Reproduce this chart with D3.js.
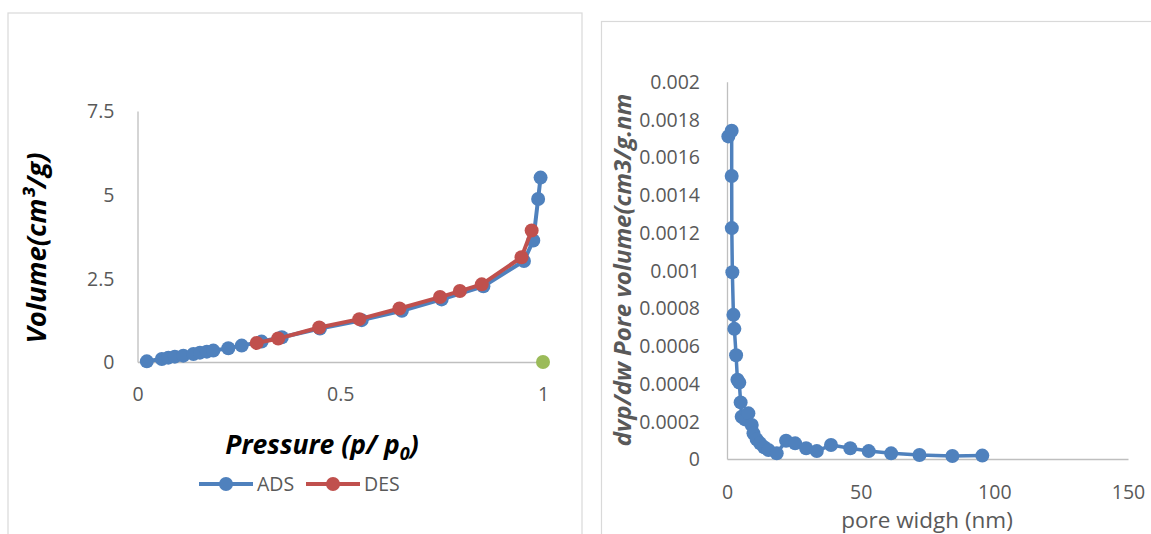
<!DOCTYPE html>
<html>
<head>
<meta charset="utf-8">
<script src="https://cdn.jsdelivr.net/npm/d3@7"></script>
<style>
  body { margin: 0; background: #fff; }
  svg { display: block; }
  text { font-family: "Open Sans", "Noto Sans", sans-serif; }
</style>
</head>
<body>
<svg id="chart" width="1151" height="534"></svg>
<script>
// ---------- data: left chart (isotherm) ----------
const adsPressure = [0.023, 0.06, 0.076, 0.092, 0.113, 0.138, 0.154, 0.171, 0.187, 0.224, 0.257, 0.306, 0.356, 0.45, 0.553, 0.652, 0.75, 0.853, 0.953, 0.976, 0.988, 0.994];
const adsVolume   = [0.02, 0.09, 0.13, 0.16, 0.19, 0.24, 0.28, 0.31, 0.34, 0.41, 0.49, 0.61, 0.74, 1.0, 1.25, 1.53, 1.87, 2.26, 3.02, 3.63, 4.87, 5.51];
const desPressure = [0.294, 0.347, 0.448, 0.547, 0.646, 0.746, 0.795, 0.849, 0.947, 0.972];
const desVolume   = [0.57, 0.70, 1.03, 1.28, 1.60, 1.94, 2.12, 2.32, 3.13, 3.93];
const extraPressure = [1.0];
const extraVolume   = [0];
const leftXTicks = [0, 0.5, 1];
const leftXTickLabels = ["0", "0.5", "1"];
const leftYTicks = [0, 2.5, 5, 7.5];
const leftYTickLabels = ["0", "2.5", "5", "7.5"];
const seriesNames = ["ADS", "DES"];

// ---------- data: right chart (pore size distribution) ----------
const poreWidth = [0.5, 1.75, 1.75, 1.8, 2.0, 2.4, 2.75, 3.4, 3.9, 4.6, 5.1, 5.5, 6.75, 8.0, 9.25, 9.9, 11.1, 12.4, 13.9, 15.5, 18.6, 22.1, 25.5, 29.6, 33.6, 38.9, 46.1, 53.0, 61.4, 72.0, 84.3, 95.5];
const poreVolume = [0.00171, 0.00174, 0.0015, 0.001224, 0.00099, 0.000764, 0.00069, 0.00055, 0.00042, 0.000405, 0.0003, 0.000224, 0.00021, 0.000242, 0.00018, 0.000136, 0.000104, 0.000083, 0.000062, 0.000048, 0.00003, 0.000097, 0.000083, 0.000057, 0.000042, 0.000074, 0.000057, 0.000042, 0.00003, 0.000021, 0.000016, 0.000018];
const rightXTicks = [0, 50, 100, 150];
const rightXTickLabels = ["0", "50", "100", "150"];
const rightYTicks = [0, 0.0002, 0.0004, 0.0006, 0.0008, 0.001, 0.0012, 0.0014, 0.0016, 0.0018, 0.002];
const rightYTickLabels = ["0", "0.0002", "0.0004", "0.0006", "0.0008", "0.001", "0.0012", "0.0014", "0.0016", "0.0018", "0.002"];

const BLUE = "#4F81BD", RED = "#C0504D", GREEN = "#9BBB59";
const AXIS = "#BFBFBF", TICKTXT = "#595959";
const R = 7, LW = 4;

const svg = d3.select("#chart");

// panel frames
svg.append("rect").attr("x", 8).attr("y", 13).attr("width", 574).attr("height", 540)
  .attr("fill", "none").attr("stroke", "#D9D9D9").attr("stroke-width", 1.2);
svg.append("rect").attr("x", 601.5).attr("y", 21.5).attr("width", 570).attr("height", 540)
  .attr("fill", "none").attr("stroke", "#D9D9D9").attr("stroke-width", 1.2);

function styleAxis(g) {
  g.select(".domain").attr("stroke", AXIS).attr("stroke-width", 1.3);
  g.selectAll(".tick line").remove();
  g.selectAll(".tick text").attr("fill", TICKTXT).style("font-size", "19.5px")
    .style("font-family", '"Open Sans", sans-serif');
}

// ---------- LEFT CHART ----------
const lx = d3.scaleLinear().domain([0, 1]).range([137.5, 543]);
const ly = d3.scaleLinear().domain([0, 7.5]).range([362, 111]);

const lxAxis = svg.append("g").attr("transform", `translate(0,${ly(0)})`)
  .call(d3.axisBottom(lx).tickValues(leftXTicks).tickFormat((d, i) => leftXTickLabels[i]).tickSize(0).tickSizeOuter(0));
styleAxis(lxAxis);
lxAxis.selectAll(".tick text").attr("y", 32).attr("dy", "0.35em");

const lyAxis = svg.append("g").attr("transform", `translate(${lx(0)},0)`)
  .call(d3.axisLeft(ly).tickValues(leftYTicks).tickFormat((d, i) => leftYTickLabels[i]).tickSize(0).tickSizeOuter(0));
styleAxis(lyAxis);
lyAxis.selectAll(".tick text").attr("x", -23).attr("dy", "0.35em");

const leftLine = d3.line().x(d => lx(d[0])).y(d => ly(d[1]));
const adsData = adsPressure.map((p, i) => [p, adsVolume[i]]);
const desData = desPressure.map((p, i) => [p, desVolume[i]]);
const extraData = extraPressure.map((p, i) => [p, extraVolume[i]]);

svg.append("path").datum(adsData).attr("d", leftLine)
  .attr("fill", "none").attr("stroke", BLUE).attr("stroke-width", LW).attr("stroke-linejoin", "round");
svg.append("g").selectAll("circle").data(adsData).join("circle")
  .attr("cx", d => lx(d[0])).attr("cy", d => ly(d[1])).attr("r", R).attr("fill", BLUE);

svg.append("path").datum(desData).attr("d", leftLine)
  .attr("fill", "none").attr("stroke", RED).attr("stroke-width", LW).attr("stroke-linejoin", "round");
svg.append("g").selectAll("circle").data(desData).join("circle")
  .attr("cx", d => lx(d[0])).attr("cy", d => ly(d[1])).attr("r", R).attr("fill", RED);

svg.append("g").selectAll("circle").data(extraData).join("circle")
  .attr("cx", d => lx(d[0])).attr("cy", d => ly(d[1])).attr("r", R).attr("fill", GREEN);

// left axis titles
svg.append("text").attr("transform", "translate(46,248) rotate(-90)")
  .attr("text-anchor", "middle").attr("fill", "#000")
  .style("font-size", "27.5px").style("font-weight", "bold").style("font-style", "italic")
  .text("Volume(cm³/g)");

const pt = svg.append("text").attr("x", 322).attr("y", 454)
  .attr("text-anchor", "middle").attr("fill", "#000")
  .style("font-size", "26.5px").style("font-weight", "bold").style("font-style", "italic");
pt.append("tspan").text("Pressure (p/ p");
pt.append("tspan").attr("dy", 6).style("font-size", "18px").text("0");
pt.append("tspan").attr("dy", -6).text(")");

// legend
const legendColors = [BLUE, RED];
const legendX = [199, 306];
const legendY = 484;
seriesNames.forEach((name, i) => {
  const g = svg.append("g");
  g.append("line").attr("x1", legendX[i]).attr("x2", legendX[i] + 54)
    .attr("y1", legendY).attr("y2", legendY).attr("stroke", legendColors[i]).attr("stroke-width", LW);
  g.append("circle").attr("cx", legendX[i] + 27).attr("cy", legendY).attr("r", R).attr("fill", legendColors[i]);
  g.append("text").attr("x", legendX[i] + 58).attr("y", legendY).attr("dy", "0.35em")
    .attr("fill", TICKTXT).style("font-size", "19.5px").text(name);
});

// ---------- RIGHT CHART ----------
const rx = d3.scaleLinear().domain([0, 150]).range([727, 1128]);
const ry = d3.scaleLinear().domain([0, 0.002]).range([459, 81.7]);

const rxAxis = svg.append("g").attr("transform", `translate(0,${ry(0)})`)
  .call(d3.axisBottom(rx).tickValues(rightXTicks).tickFormat((d, i) => rightXTickLabels[i]).tickSize(0).tickSizeOuter(0));
styleAxis(rxAxis);
rxAxis.selectAll(".tick text").attr("y", 33).attr("dy", "0.35em");

const ryAxis = svg.append("g").attr("transform", `translate(${rx(0)},0)`)
  .call(d3.axisLeft(ry).tickValues(rightYTicks).tickFormat((d, i) => rightYTickLabels[i]).tickSize(0).tickSizeOuter(0));
styleAxis(ryAxis);
ryAxis.selectAll(".tick text").attr("x", -27).attr("dy", "0.35em");

const poreData = poreWidth.map((w, i) => [w, poreVolume[i]]);
const rightLine = d3.line().x(d => rx(d[0])).y(d => ry(d[1]));
svg.append("path").datum(poreData).attr("d", rightLine)
  .attr("fill", "none").attr("stroke", BLUE).attr("stroke-width", 3.5).attr("stroke-linejoin", "round");
svg.append("g").selectAll("circle").data(poreData).join("circle")
  .attr("cx", d => rx(d[0])).attr("cy", d => ry(d[1])).attr("r", R).attr("fill", BLUE);

// right axis titles
svg.append("text").attr("transform", "translate(631,270) rotate(-90)")
  .attr("text-anchor", "middle").attr("fill", TICKTXT)
  .style("font-size", "24px").style("font-weight", "bold").style("font-style", "italic")
  .text("dvp/dw Pore volume(cm3/g.nm");

svg.append("text").attr("x", 927).attr("y", 520).attr("dy", "0.35em")
  .attr("text-anchor", "middle").attr("fill", TICKTXT)
  .style("font-size", "22.5px").text("pore widgh (nm)");
</script>
</body>
</html>
